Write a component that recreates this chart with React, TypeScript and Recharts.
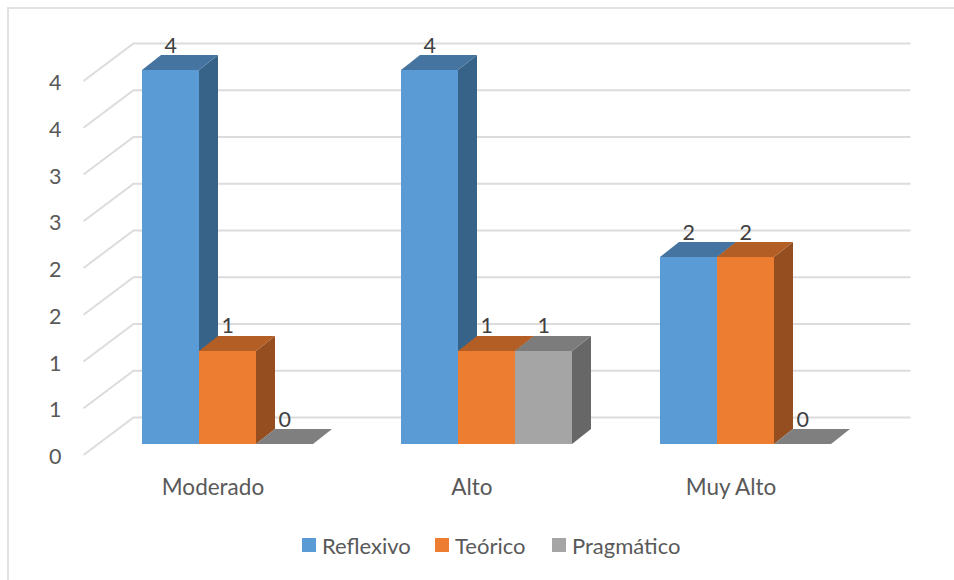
import React from "react";
import { BarChart, Bar, CartesianGrid, XAxis, YAxis, Legend, LabelList } from "recharts";

const categories = ["Moderado", "Alto", "Muy Alto"];
const reflexivo = [4, 4, 2];
const teorico = [1, 1, 2];
const pragmatico = [0, 1, 0];
const yTicks = [0, 0.5, 1, 1.5, 2, 2.5, 3, 3.5, 4];

const FONT = "Lato, 'Open Sans', sans-serif";
const TEXT = "#595959";
const FONT_SIZE = 21.5;

const data = categories.map((name, i) => ({
  name,
  Reflexivo: reflexivo[i],
  Teorico: teorico[i],
  Pragmatico: pragmatico[i],
}));

const series = [
  { key: "Reflexivo", label: "Reflexivo", front: "#5B9BD5", top: "#44749F", side: "#376389" },
  { key: "Teorico", label: "Teórico", front: "#ED7D31", top: "#B25E25", side: "#944E1F" },
  { key: "Pragmatico", label: "Pragmático", front: "#A5A5A5", top: "#7C7C7C", side: "#676767" },
];

// wall depth of the fake 3D box, and where the bars sit inside it
const WALL_DX = 50;
const WALL_DY = -37.5;
const BAR_SHIFT_X = 15.5;
const BAR_SHIFT_Y = -11;
const DEPTH_X = 19;
const DEPTH_Y = -15;

const Box3D = (props: any) => {
  const { x, y, width, height, front, top, side } = props;
  // snapped to whole pixels so neighbouring bars show no seam
  const l = Math.round(x + BAR_SHIFT_X);
  const r = Math.round(x + BAR_SHIFT_X + width);
  const t = Math.round(y + BAR_SHIFT_Y);
  const b = Math.round(y + BAR_SHIFT_Y + height);
  return (
    <g>
      <polygon
        points={`${r},${t} ${r + DEPTH_X},${t + DEPTH_Y} ${r + DEPTH_X},${b + DEPTH_Y} ${r},${b}`}
        fill={side}
      />
      <polygon
        points={`${l},${t} ${l + DEPTH_X},${t + DEPTH_Y} ${r + DEPTH_X},${t + DEPTH_Y} ${r},${t}`}
        fill={height > 0 ? top : "#7F7F7F"}
      />
      <rect x={l} y={t} width={r - l} height={b - t} fill={front} />
    </g>
  );
};

const WallLine = (props: any) => {
  const { x1, x2, y1 } = props;
  return (
    <path
      d={`M${x1},${y1} L${x1 + WALL_DX},${y1 + WALL_DY} L${x2 + WALL_DX},${y1 + WALL_DY}`}
      fill="none"
      stroke="#DCDCDC"
      strokeWidth={2}
    />
  );
};

const ValueLabel = (props: any) => {
  const { x, y, width, value } = props;
  return (
    <text
      x={x + width / 2 + BAR_SHIFT_X}
      y={y + BAR_SHIFT_Y - 25.5}
      textAnchor="middle"
      dominantBaseline="central"
      fontFamily={FONT}
      fontSize={FONT_SIZE}
      fill="#404040"
    >
      {value}
    </text>
  );
};

const LegendRow = () => (
  <div style={{ position: "relative", height: 0 }}>
    {series.map((s, i) => (
      <div
        key={s.key}
        style={{
          position: "absolute",
          left: [302, 435, 552][i],
          top: 0,
          display: "flex",
          alignItems: "center",
          height: 14,
          fontFamily: FONT,
          fontSize: 22,
          color: TEXT,
          whiteSpace: "nowrap",
        }}
      >
        <span style={{ width: 14, height: 14, background: s.front, marginRight: 6 }} />
        {s.label}
      </div>
    ))}
  </div>
);

export default function App() {
  return (
    <div style={{ position: "absolute", left: 0, top: 0, width: 954, height: 580, background: "#fff" }}>
      <div
        style={{
          position: "absolute",
          left: 7,
          top: 7,
          right: 0,
          bottom: 0,
          borderLeft: "2px solid #E2E2E2",
          borderTop: "2px solid #E2E2E2",
        }}
      />
      <div style={{ position: "absolute", left: 0, top: 0 }}>
        <BarChart
          width={954}
          height={580}
          data={data}
          margin={{ top: 81, right: 93.5, bottom: 0, left: 23.5 }}
          barCategoryGap="16.7%"
          barGap={0}
        >
          <CartesianGrid vertical={false} horizontal={(p: any) => <WallLine key={p.index} {...p} />} />
          <XAxis
            dataKey="name"
            height={125}
            axisLine={false}
            tickLine={false}
            tickSize={0}
            tickMargin={24}
            tick={{ fontFamily: FONT, fontSize: 22.5, fill: TEXT }}
          />
          <YAxis
            width={60}
            domain={[0, 4]}
            ticks={yTicks}
            interval={0}
            axisLine={false}
            tickLine={false}
            tickSize={0}
            tickMargin={22}
            tickFormatter={(v: number) => String(Math.round(v))}
            tick={{ fontFamily: FONT, fontSize: FONT_SIZE, fill: TEXT, dy: 1.5 }}
          />
          <Legend
            content={LegendRow}
            wrapperStyle={{ left: 0, top: 538, bottom: "auto", width: 954, height: 0 }}
          />
          {series.map((s) => (
            <Bar
              key={s.key}
              dataKey={s.key}
              name={s.label}
              isAnimationActive={false}
              shape={(p: any) => <Box3D {...p} front={s.front} top={s.top} side={s.side} />}
            >
              <LabelList dataKey={s.key} content={ValueLabel} />
            </Bar>
          ))}
        </BarChart>
      </div>
    </div>
  );
}
